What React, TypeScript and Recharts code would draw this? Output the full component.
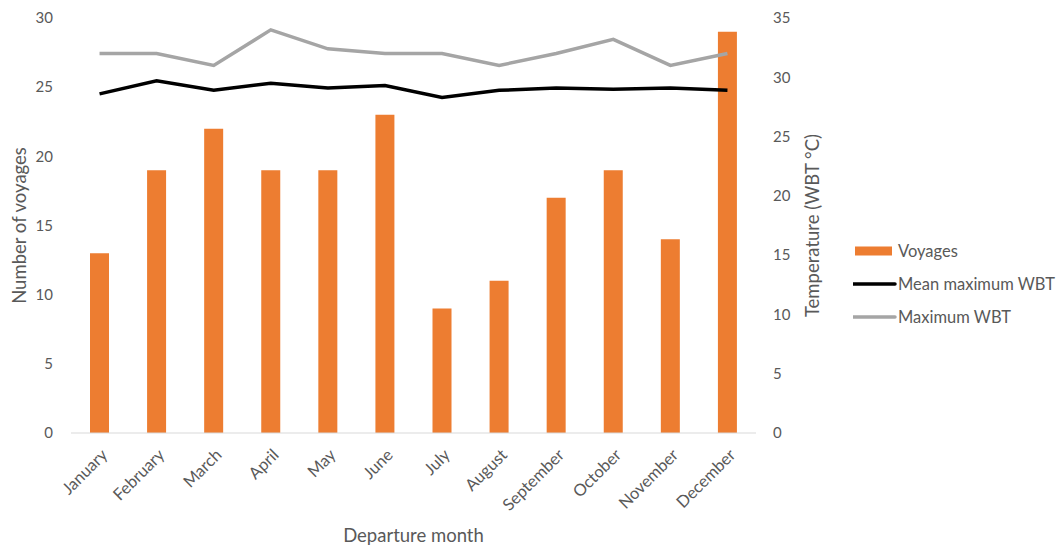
import React from "react";
import {
    ComposedChart,
    Bar,
    Line,
    XAxis,
    YAxis,
    Legend,
} from "recharts";

// 출항 월
const months = [
    "January",
    "February",
    "March",
    "April",
    "May",
    "June",
    "July",
    "August",
    "September",
    "October",
    "November",
    "December",
];

// 월별 항해 수
const voyages = [13, 19, 22, 19, 19, 23, 9, 11, 17, 19, 14, 29];

// 평균 최고 습구온도 (°C)
const meanMaxWbt = [28.6, 29.7, 28.9, 29.5, 29.1, 29.3, 28.3, 28.9, 29.1, 29.0, 29.1, 28.9];

// 최고 습구온도 (°C)
const maxWbt = [32, 32, 31, 34, 32.4, 32, 32, 31, 32, 33.2, 31, 32];

const voyageTicks = [0, 5, 10, 15, 20, 25, 30];
const tempTicks = [0, 5, 10, 15, 20, 25, 30, 35];

// 범례 순서 (기본값은 이름순 정렬이라 직접 지정)
const seriesOrder = ["Voyages", "Mean maximum WBT", "Maximum WBT"];

const data = months.map((month, i) => ({
    month,
    voyages: voyages[i],
    meanMax: meanMaxWbt[i],
    max: maxWbt[i],
}));

const FONT = "Lato, 'Open Sans', sans-serif";
const TEXT = "#595959";
const LEGEND_WIDTH = 203;

interface TickProps {
    x: number;
    y: number;
    payload: { value: string };
}

// 45도 기울인 월 라벨
const MonthTick = ({ x, y, payload }: TickProps) => (
    <g transform={`translate(${x + 9},${y + 23})`}>
        <text
            x={0}
            y={0}
            textAnchor="end"
            transform="rotate(-45)"
            fill={TEXT}
            fontSize={16.5}
            fontFamily={FONT}
        >
            {payload.value}
        </text>
    </g>
);

interface LegendEntry {
    value: string;
    color: string;
    type: string;
}

const SeriesLegend = ({ payload }: { payload?: LegendEntry[] }) => {
    const items = [...(payload || [])].sort(
        (a, b) => seriesOrder.indexOf(a.value) - seriesOrder.indexOf(b.value)
    );
    return (
        <div style={{ fontFamily: FONT, fontSize: 16.5, color: TEXT }}>
            {items.map((entry) => (
                <div
                    key={entry.value}
                    style={{ height: 33, display: "flex", alignItems: "center" }}
                >
                    <svg width={44} height={12} style={{ display: "block" }}>
                        {entry.type === "rect" ? (
                            <rect x={2} y={1.5} width={37} height={9} fill={entry.color} />
                        ) : (
                            <line
                                x1={0}
                                y1={6}
                                x2={42}
                                y2={6}
                                stroke={entry.color}
                                strokeWidth={3.5}
                                strokeLinecap="round"
                            />
                        )}
                    </svg>
                    <span style={{ marginLeft: 1, whiteSpace: "nowrap" }}>{entry.value}</span>
                </div>
            ))}
        </div>
    );
};

const App = () => {
    return (
        <div style={{ position: "absolute", left: 0, top: 0, background: "#fff" }}>
            <ComposedChart
                width={1056}
                height={548}
                data={data}
                // 오른쪽 범례 폭(LEGEND_WIDTH)이 여백에 더해지므로 그만큼 뺌
                margin={{ top: 18, right: 230 - LEGEND_WIDTH, bottom: 5, left: 0 }}
            >
                <XAxis
                    dataKey="month"
                    height={110}
                    interval={0}
                    tickLine={false}
                    tickSize={0}
                    tickMargin={0}
                    axisLine={{ stroke: "#D9D9D9", strokeWidth: 1 }}
                    tick={MonthTick}
                    label={{
                        value: "Departure month",
                        position: "insideBottom",
                        offset: 1,
                        fill: TEXT,
                        fontSize: 18.5,
                        fontFamily: FONT,
                    }}
                />
                <YAxis
                    yAxisId="left"
                    width={71}
                    domain={[0, 30]}
                    ticks={voyageTicks}
                    axisLine={false}
                    tickLine={false}
                    tickSize={0}
                    tickMargin={18}
                    tick={{ fill: TEXT, fontSize: 15, fontFamily: FONT }}
                    label={{
                        value: "Number of voyages",
                        angle: -90,
                        position: "center",
                        dx: -16,
                        fill: TEXT,
                        fontSize: 18.5,
                        fontFamily: FONT,
                    }}
                />
                <YAxis
                    yAxisId="right"
                    orientation="right"
                    width={70}
                    domain={[0, 35]}
                    ticks={tempTicks}
                    axisLine={false}
                    tickLine={false}
                    tickSize={0}
                    tickMargin={17}
                    tick={{ fill: TEXT, fontSize: 15, fontFamily: FONT, textAnchor: "start" }}
                    label={{
                        value: "Temperature (WBT °C)",
                        angle: -90,
                        position: "center",
                        dx: 21,
                        fill: TEXT,
                        fontSize: 18.5,
                        fontFamily: FONT,
                    }}
                />
                <Legend
                    layout="vertical"
                    verticalAlign="middle"
                    align="right"
                    wrapperStyle={{ left: 853, top: 234, width: LEGEND_WIDTH }}
                    content={SeriesLegend as any}
                />
                <Bar
                    yAxisId="left"
                    dataKey="voyages"
                    name="Voyages"
                    fill="#ED7D31"
                    barSize={19}
                    isAnimationActive={false}
                />
                <Line
                    yAxisId="right"
                    type="linear"
                    dataKey="meanMax"
                    name="Mean maximum WBT"
                    stroke="#000000"
                    strokeWidth={3.5}
                    dot={false}
                    activeDot={false}
                    isAnimationActive={false}
                />
                <Line
                    yAxisId="right"
                    type="linear"
                    dataKey="max"
                    name="Maximum WBT"
                    stroke="#A5A5A5"
                    strokeWidth={3.5}
                    dot={false}
                    activeDot={false}
                    isAnimationActive={false}
                />
            </ComposedChart>
        </div>
    );
};

export default App;
